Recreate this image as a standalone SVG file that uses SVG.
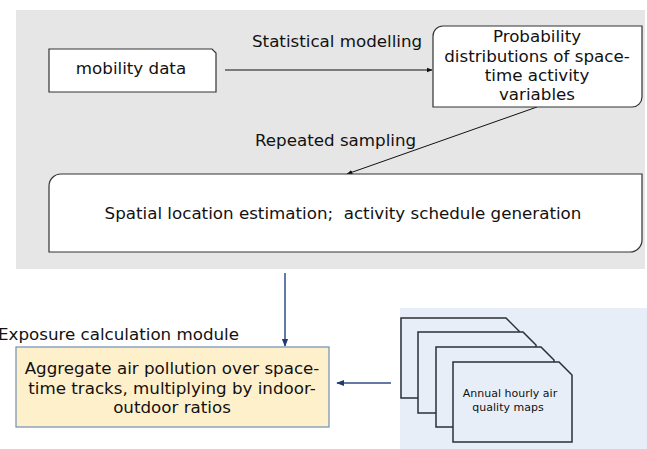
<svg xmlns="http://www.w3.org/2000/svg" width="647" height="449" viewBox="0 0 647 449">
<style>
text{font-family:"DejaVu Sans","Noto Sans",sans-serif;fill:#111}
.t15{font-size:16.7px}
.box{fill:#fff;stroke:#333;stroke-width:1.2}
.page{fill:#e8eef8;stroke:#2b2f36;stroke-width:1.5}
.ln{fill:none;stroke:#111;stroke-width:1}
.bl{fill:none;stroke:#2f4f86;stroke-width:1.5}
</style>
<defs>
<marker id="ah" viewBox="0 0 10 10" refX="9" refY="5" markerWidth="6" markerHeight="6" markerUnits="userSpaceOnUse" orient="auto"><path d="M0 1 L10 5 L0 9 Z" fill="#111"/></marker>
<marker id="ahb" viewBox="0 0 10 10" refX="9" refY="5" markerWidth="8" markerHeight="8" markerUnits="userSpaceOnUse" orient="auto"><path d="M0 1 L10 5 L0 9 Z" fill="#1f3a70"/></marker>
</defs>
<rect x="16" y="10" width="629" height="259" fill="#e6e6e6"/>
<rect x="400" y="308" width="247" height="141" fill="#e8eef8"/>
<g id="connectors">
<line class="ln" x1="225" y1="70" x2="432" y2="70" marker-end="url(#ah)"/>
<line class="ln" x1="537" y1="107" x2="347" y2="174" marker-end="url(#ah)"/>
<line class="bl" x1="285" y1="273" x2="285" y2="346" marker-end="url(#ahb)"/>
<line class="bl" x1="391" y1="383" x2="337" y2="383" marker-end="url(#ahb)"/>
<text class="t15" x="252" y="47">Statistical modelling</text>
<text class="t15" x="255" y="146">Repeated sampling</text>
</g>
<g id="mobility">
<path class="box" d="M49 49 H212 L216 53 V92 H49 Z"/>
<text class="t15" x="131" y="74" text-anchor="middle">mobility data</text>
</g>
<g id="probability">
<path class="box" d="M443 26 H642 V97 A10 10 0 0 1 632 107 H433 V36 A10 10 0 0 1 443 26 Z"/>
<text class="t15" text-anchor="middle"><tspan x="537" y="42">Probability</tspan><tspan x="537" y="62">distributions of space-</tspan><tspan x="537" y="81">time activity</tspan><tspan x="537" y="100">variables</tspan></text>
</g>
<g id="spatial">
<path class="box" d="M61 174 H642 V240 A12 12 0 0 1 630 252 H49 V186 A12 12 0 0 1 61 174 Z"/>
<text class="t15" x="343" y="219" text-anchor="middle" xml:space="preserve">Spatial location estimation;  activity schedule generation</text>
</g>
<g id="exposure">
<text class="t15" x="-2" y="340">Exposure calculation module</text>
<rect x="16" y="347" width="313" height="80" fill="#fff0cc" stroke="#6f8fb3" stroke-width="1.2"/>
<text class="t15" text-anchor="middle"><tspan x="172" y="374">Aggregate air pollution over space-</tspan><tspan x="172" y="394">time tracks, multiplying by indoor-</tspan><tspan x="172" y="413">outdoor ratios</tspan></text>
</g>
<g id="maps">
<path class="page" d="M401 318 H506 L519 331 V398 H401 Z"/>
<path class="page" d="M418 332 H523 L536 345 V413 H418 Z"/>
<path class="page" d="M436 347 H541 L554 360 V427 H436 Z"/>
<path class="page" d="M453 362 H559 L572 375 V442 H453 Z"/>
<text font-size="11" text-anchor="middle"><tspan x="510" y="397">Annual hourly air</tspan><tspan x="508" y="411">quality maps</tspan></text>
</g>
</svg>
